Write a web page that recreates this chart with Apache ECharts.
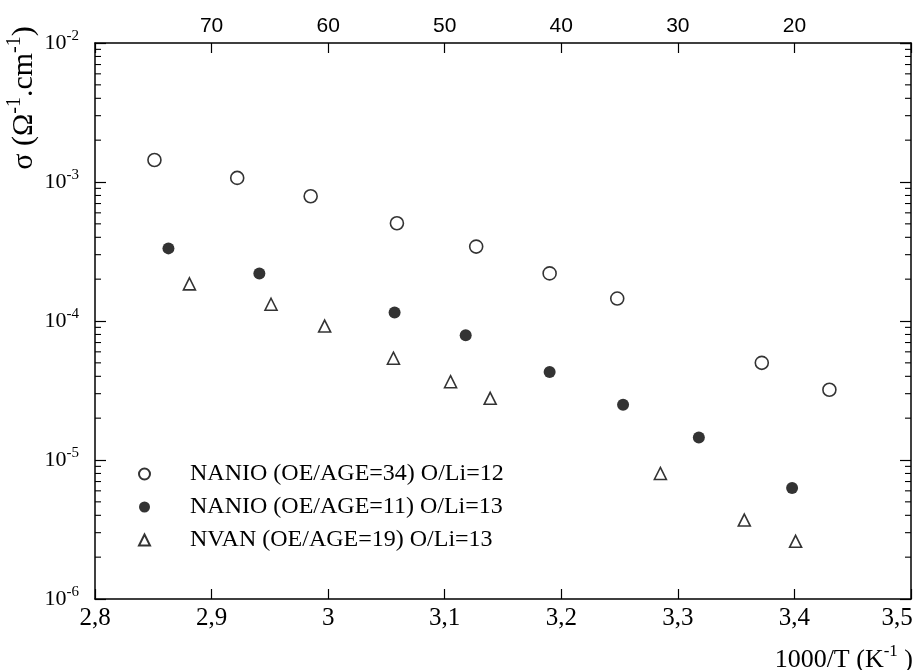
<!DOCTYPE html>
<html><head><meta charset="utf-8">
<script src="https://cdn.jsdelivr.net/npm/echarts@6/dist/echarts.min.js"></script>
<style>html,body{margin:0;padding:0;background:#fff}#c{width:914px;height:670px}</style>
</head><body><div id="c"></div>
<script>
const seriesNames = ['NANIO (OE/AGE=34) O/Li=12', 'NANIO (OE/AGE=11) O/Li=13', 'NVAN (OE/AGE=19) O/Li=13'];
const s1X = [2.851, 2.922, 2.985, 3.059, 3.127, 3.19, 3.248, 3.372, 3.43];
const s1Y = [1.44e-3, 1.07e-3, 7.9e-4, 5.05e-4, 3.43e-4, 2.2e-4, 1.45e-4, 5.0e-5, 3.2e-5];
const s2X = [2.863, 2.941, 3.057, 3.118, 3.19, 3.253, 3.318, 3.398];
const s2Y = [3.33e-4, 2.2e-4, 1.15e-4, 7.9e-5, 4.3e-5, 2.5e-5, 1.45e-5, 6.3e-6];
const s3X = [2.881, 2.951, 2.997, 3.056, 3.105, 3.139, 3.285, 3.357, 3.401];
const s3Y = [1.85e-4, 1.32e-4, 9.2e-5, 5.4e-5, 3.66e-5, 2.78e-5, 8.0e-6, 3.7e-6, 2.6e-6];
const xTickLabels = ['2,8', '2,9', '3', '3,1', '3,2', '3,3', '3,4', '3,5'];
const topTickAt = [2.9, 3.0, 3.1, 3.2, 3.3, 3.4];
const topTickLabels = ['70', '60', '50', '40', '30', '20'];
const xMin = 2.8, xMax = 3.5, xStep = 0.1;
const yMin = 1e-6, yMax = 1e-2;

const minorTickValues = [];
for (let k = -6; k < -2; k++) for (let m = 2; m <= 9; m++) minorTickValues.push(m * Math.pow(10, k));

const serif = 'Liberation Serif';
const pair = (xs, ys) => xs.map((x, i) => [x, ys[i]]);

const chart = echarts.init(document.getElementById('c'), null, {renderer: 'canvas'});
const axisLine = {show: true, lineStyle: {color: '#000', width: 1.5}};
chart.setOption({
  animation: false,
  backgroundColor: '#fff',
  grid: {left: 95, right: 3, top: 43, bottom: 71, containLabel: false, outerBoundsMode: 'none'},
  xAxis: [{
    type: 'value', min: xMin, max: xMax, interval: xStep, position: 'bottom',
    axisLine: axisLine,
    axisTick: {show: true, inside: true, length: 10, lineStyle: {color: '#000', width: 1.2}},
    splitLine: {show: false},
    axisLabel: {
      show: true, margin: 7, color: '#000', fontFamily: serif, fontSize: 25,
      showMinLabel: true, showMaxLabel: true,
      formatter: v => {
        const i = Math.round((v - xMin) / xStep);
        const t = xTickLabels[i] || '';
        return i === xTickLabels.length - 1 ? '{r|' + t + '}' : t;
      },
      rich: {r: {fontFamily: serif, fontSize: 25, color: '#000', padding: [0, 28, 0, 0]}}
    }
  }, {
    type: 'value', min: xMin, max: xMax, interval: xStep, position: 'top',
    axisLine: axisLine,
    axisTick: {show: true, inside: true, length: 10, lineStyle: {color: '#000', width: 1.2}},
    splitLine: {show: false},
    axisLabel: {
      show: true, margin: 6, color: '#000', fontFamily: 'Liberation Sans', fontSize: 21,
      formatter: v => { const i = topTickAt.findIndex(t => Math.abs(t - v) < 1e-6); return i >= 0 ? topTickLabels[i] : ''; }
    }
  }],
  yAxis: [{
    type: 'log', logBase: 10, min: yMin, max: yMax, position: 'left',
    axisLine: axisLine,
    axisTick: {show: true, inside: true, length: 11, lineStyle: {color: '#000', width: 1.2}},
    splitLine: {show: false},
    minorTick: {show: false},
    axisLabel: {
      show: true, margin: 16, color: '#000',
      formatter: v => '{b|10}{s|' + Math.round(Math.log10(v)) + '}',
      rich: {
        b: {fontFamily: serif, fontSize: 22, color: '#000'},
        s: {fontFamily: serif, fontSize: 15, color: '#000', padding: [0, 0, 14, 0]}
      }
    }
  }, {
    type: 'log', logBase: 10, min: yMin, max: yMax, position: 'right',
    axisLine: axisLine,
    axisTick: {show: true, inside: true, length: 11, lineStyle: {color: '#000', width: 1.2}},
    splitLine: {show: false},
    axisLabel: {show: false}
  }],
  legend: {
    orient: 'vertical', left: 138, top: 462, padding: 0,
    itemWidth: 11, itemHeight: 11, itemGap: 9,
    textStyle: {fontFamily: serif, fontSize: 24, color: '#000', padding: [0, 0, 0, 35]},
    data: seriesNames
  },
  graphic: [{
    type: 'text', x: 24, y: 98, rotation: Math.PI / 2,
    style: {
      text: '{a|σ (Ω}{s|-1}{a|.cm}{s|-1}{a|)}',
      align: 'center', verticalAlign: 'middle',
      rich: {
        a: {fontFamily: serif, fontSize: 30, fill: '#000'},
        s: {fontFamily: serif, fontSize: 20, fill: '#000', padding: [0, 0, 18, 0]}
      }
    }
  }, {
    type: 'text', x: 913, y: 660,
    style: {
      text: '{a|1000/T (K}{s|-1}{a| )}',
      align: 'right', verticalAlign: 'middle',
      rich: {
        a: {fontFamily: serif, fontSize: 26, fill: '#000'},
        s: {fontFamily: serif, fontSize: 17, fill: '#000', padding: [0, 0, 16, 0]}
      }
    }
  }],
  series: [{
    name: seriesNames[0], type: 'scatter', data: pair(s1X, s1Y),
    symbol: 'circle', symbolSize: 13,
    itemStyle: {color: '#fff', borderColor: '#000', borderWidth: 1.6}
  }, {
    name: seriesNames[1], type: 'scatter', data: pair(s2X, s2Y),
    symbol: 'circle', symbolSize: 12,
    itemStyle: {color: '#000', borderColor: '#000', borderWidth: 0}
  }, {
    name: seriesNames[2], type: 'scatter', data: pair(s3X, s3Y),
    symbol: 'triangle', symbolSize: 12,
    itemStyle: {color: '#fff', borderColor: '#000', borderWidth: 1.6}
  }, {
    type: 'custom', silent: true, clip: false, legendHoverLink: false,
    data: minorTickValues.map(v => [xMin, v]),
    renderItem: (params, api) => {
      const v = api.value(1);
      const l = api.coord([xMin, v]);
      const r = api.coord([xMax, v]);
      const st = {stroke: '#000', lineWidth: 1.1};
      return {type: 'group', children: [
        {type: 'line', shape: {x1: l[0], y1: l[1], x2: l[0] + 6, y2: l[1]}, style: st},
        {type: 'line', shape: {x1: r[0], y1: r[1], x2: r[0] - 6, y2: r[1]}, style: st}
      ]};
    }
  }]
});
</script>
</body></html>
